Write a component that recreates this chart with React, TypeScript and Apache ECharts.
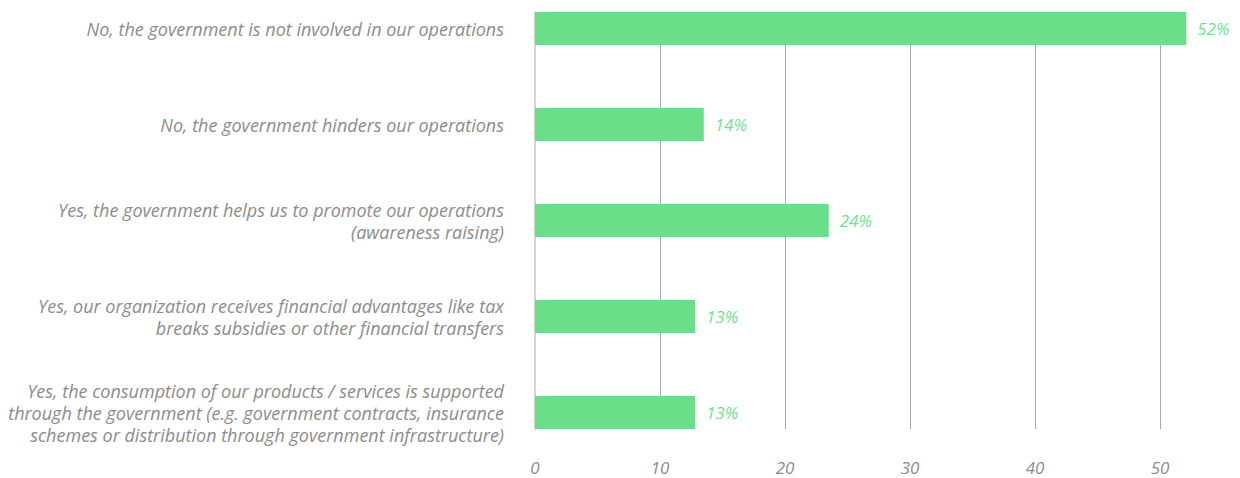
import React, { useEffect, useRef } from "react";
import * as echarts from "echarts";

const categories = [
  "No, the government is not involved in our operations",
  "No, the government hinders our operations",
  "Yes, the government helps us to promote our operations\n(awareness raising)",
  "Yes, our organization receives financial advantages like tax\nbreaks subsidies or other financial transfers",
  "Yes, the consumption of our products / services is supported\nthrough the government (e.g. government contracts, insurance\nschemes or distribution through government infrastructure)",
];
const values = [52.1, 13.5, 23.5, 12.8, 12.8];
const xTicks = [0, 10, 20, 30, 40, 50];

const FONT = "Open Sans";
const GREEN = "#69df8a";
const GREEN_TEXT = "#72e090";
const GRAY_TEXT = "#8c8c8c";

export default function App() {
  const ref = useRef<HTMLDivElement>(null);
  useEffect(() => {
    if (!ref.current) return;
    const chart = echarts.init(ref.current, undefined, { renderer: "svg" });
    const xMax = values[0];
    const gridLeft = 535;
    const gridRight = 1240 - gridLeft - xMax * 12.5;
    chart.setOption({
      animation: false,
      grid: [
        { left: gridLeft, right: gridRight, top: 12, bottom: 49, containLabel: false },
        { left: gridLeft, right: gridRight, top: 28.5, bottom: 65.5, containLabel: false },
      ],
      xAxis: [
        {
          gridIndex: 0,
          type: "value",
          min: 0,
          max: xMax,
          interval: xTicks[1] - xTicks[0],
          axisLine: { show: false },
          axisTick: { show: false },
          splitLine: {
            show: true,
            showMinLine: false,
            showMaxLine: false,
            lineStyle: { color: "#a9a9a9", width: 1 },
          },
          axisLabel: {
            showMaxLabel: false,
            margin: 30,
            color: GRAY_TEXT,
            fontFamily: FONT,
            fontStyle: "italic",
            fontSize: 17,
          },
        },
        {
          gridIndex: 1,
          type: "value",
          min: 0,
          max: xMax,
          show: false,
        },
      ],
      yAxis: [
        {
          gridIndex: 0,
          type: "value",
          axisLabel: { show: false },
          axisTick: { show: false },
          splitLine: { show: false },
          axisLine: { show: true, lineStyle: { color: "#c4c4c4", width: 1.5 } },
        },
        {
          gridIndex: 1,
          type: "category",
          data: categories,
          inverse: true,
          boundaryGap: false,
          axisLine: { show: false },
          axisTick: { show: false },
          splitLine: { show: false },
          axisLabel: {
            margin: 31,
            align: "right",
            color: GRAY_TEXT,
            fontFamily: FONT,
            fontStyle: "italic",
            fontSize: 18,
            lineHeight: 22,
          },
        },
      ],
      series: [
        {
          type: "bar",
          xAxisIndex: 1,
          yAxisIndex: 1,
          data: values,
          barWidth: 33,
          itemStyle: { color: GREEN },
          z: 3,
          label: {
            show: true,
            position: "right",
            distance: 11,
            color: GREEN_TEXT,
            fontFamily: FONT,
            fontStyle: "italic",
            fontSize: 17,
            formatter: (p: any) => Math.round(p.value) + "%",
          },
        },
      ],
    });
    return () => chart.dispose();
  }, []);
  return (
    <div
      ref={ref}
      style={{ position: "fixed", left: 0, top: 0, width: 1240, height: 478, background: "#fff" }}
    />
  );
}
